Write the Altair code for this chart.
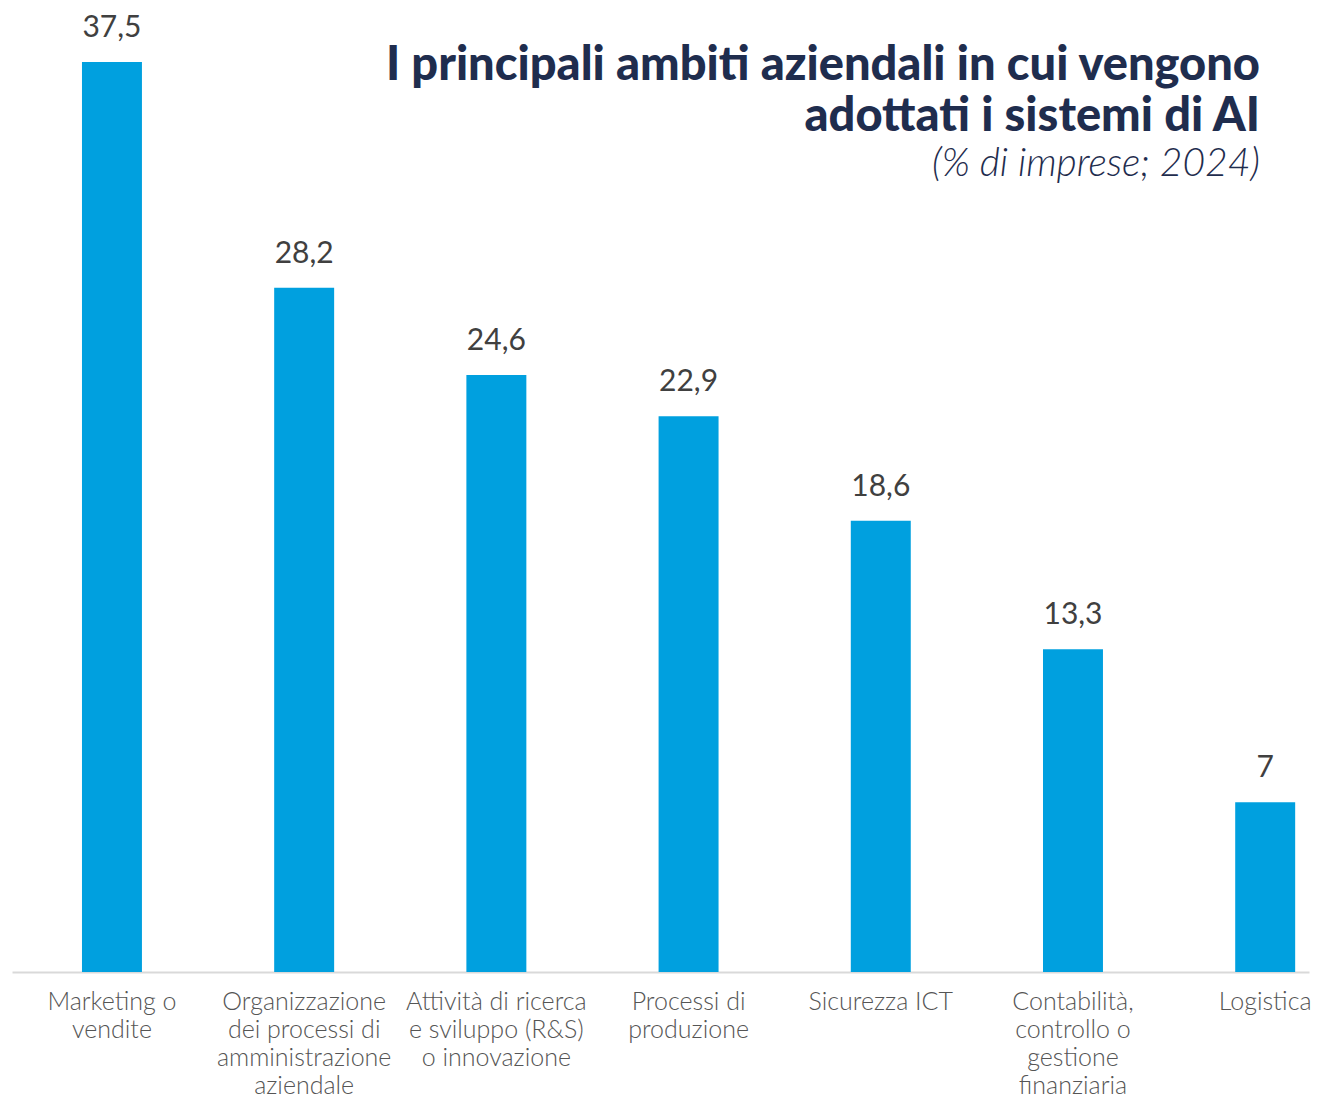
import altair as alt
import pandas as pd

categories = [
    "Marketing o\nvendite",
    "Organizzazione\ndei processi di\namministrazione\naziendale",
    "Attività di ricerca\ne sviluppo (R&S)\no innovazione",
    "Processi di\nproduzione",
    "Sicurezza ICT",
    "Contabilità,\ncontrollo o\ngestione\nfinanziaria",
    "Logistica",
]
values = [37.5, 28.2, 24.6, 22.9, 18.6, 13.3, 7]

title_lines = ["I principali ambiti aziendali in cui vengono", "adottati i sistemi di AI"]
subtitle = "(% di imprese; 2024)"

df = pd.DataFrame({"cat": categories, "v": values})

W, H = 1297, 910
FONT = "Lato"

x = alt.X(
    "cat:N",
    sort=None,
    title=None,
    scale=alt.Scale(paddingInner=0.688, paddingOuter=0.218, align=0.835),
    axis=alt.Axis(
        labelExpr="split(datum.label, '\\n')",
        labelAngle=0,
        labelFont=FONT,
        labelFontWeight=300,
        labelFontSize=25,
        labelColor="#555555",
        labelLineHeight=28,
        labelPadding=17,
        labelLimit=400,
        ticks=False,
        grid=False,
        domainColor="#d9d9d9",
        domainWidth=2,
    ),
)
y = alt.Y(
    "v:Q",
    title=None,
    scale=alt.Scale(domain=[0, 37.5], nice=False, zero=True),
    axis=None,
)

bars = alt.Chart(df).mark_bar(color="#00a0df").encode(x=x, y=y)

labels = (
    alt.Chart(df)
    .transform_calculate(lab="replace(toString(datum.v), '.', ',')")
    .mark_text(font=FONT, fontSize=30, color="#404040", baseline="alphabetic", dy=-25)
    .encode(x=x, y=y, text="lab:N")
)

title1 = (
    alt.Chart(pd.DataFrame({"t": [title_lines[0]]}))
    .mark_text(font=FONT, fontSize=47, fontWeight=900, color="#1f2d4e", align="right", baseline="alphabetic")
    .encode(text="t:N", x=alt.value(1248), y=alt.value(18))
)
title2 = (
    alt.Chart(pd.DataFrame({"t": [title_lines[1]]}))
    .mark_text(font=FONT, fontSize=47, fontWeight=900, color="#1f2d4e", align="right", baseline="alphabetic")
    .encode(text="t:N", x=alt.value(1248), y=alt.value(69))
)
sub = (
    alt.Chart(pd.DataFrame({"t": [subtitle]}))
    .mark_text(font=FONT, fontSize=39, fontWeight=300, fontStyle="italic", color="#1f2d4e", align="right", baseline="alphabetic")
    .encode(text="t:N", x=alt.value(1248), y=alt.value(114))
)

chart = (
    alt.layer(bars, labels, title1, title2, sub)
    .properties(
        width=W,
        height=H,
        autosize=alt.AutoSizeParams(type="none"),
        padding={"left": 4, "top": 54, "right": 2, "bottom": 122},
    )
    .configure(background="white")
    .configure_view(stroke=None, strokeWidth=0)
)

chart.save("out.html", embed_options={"renderer": "svg", "actions": False})
